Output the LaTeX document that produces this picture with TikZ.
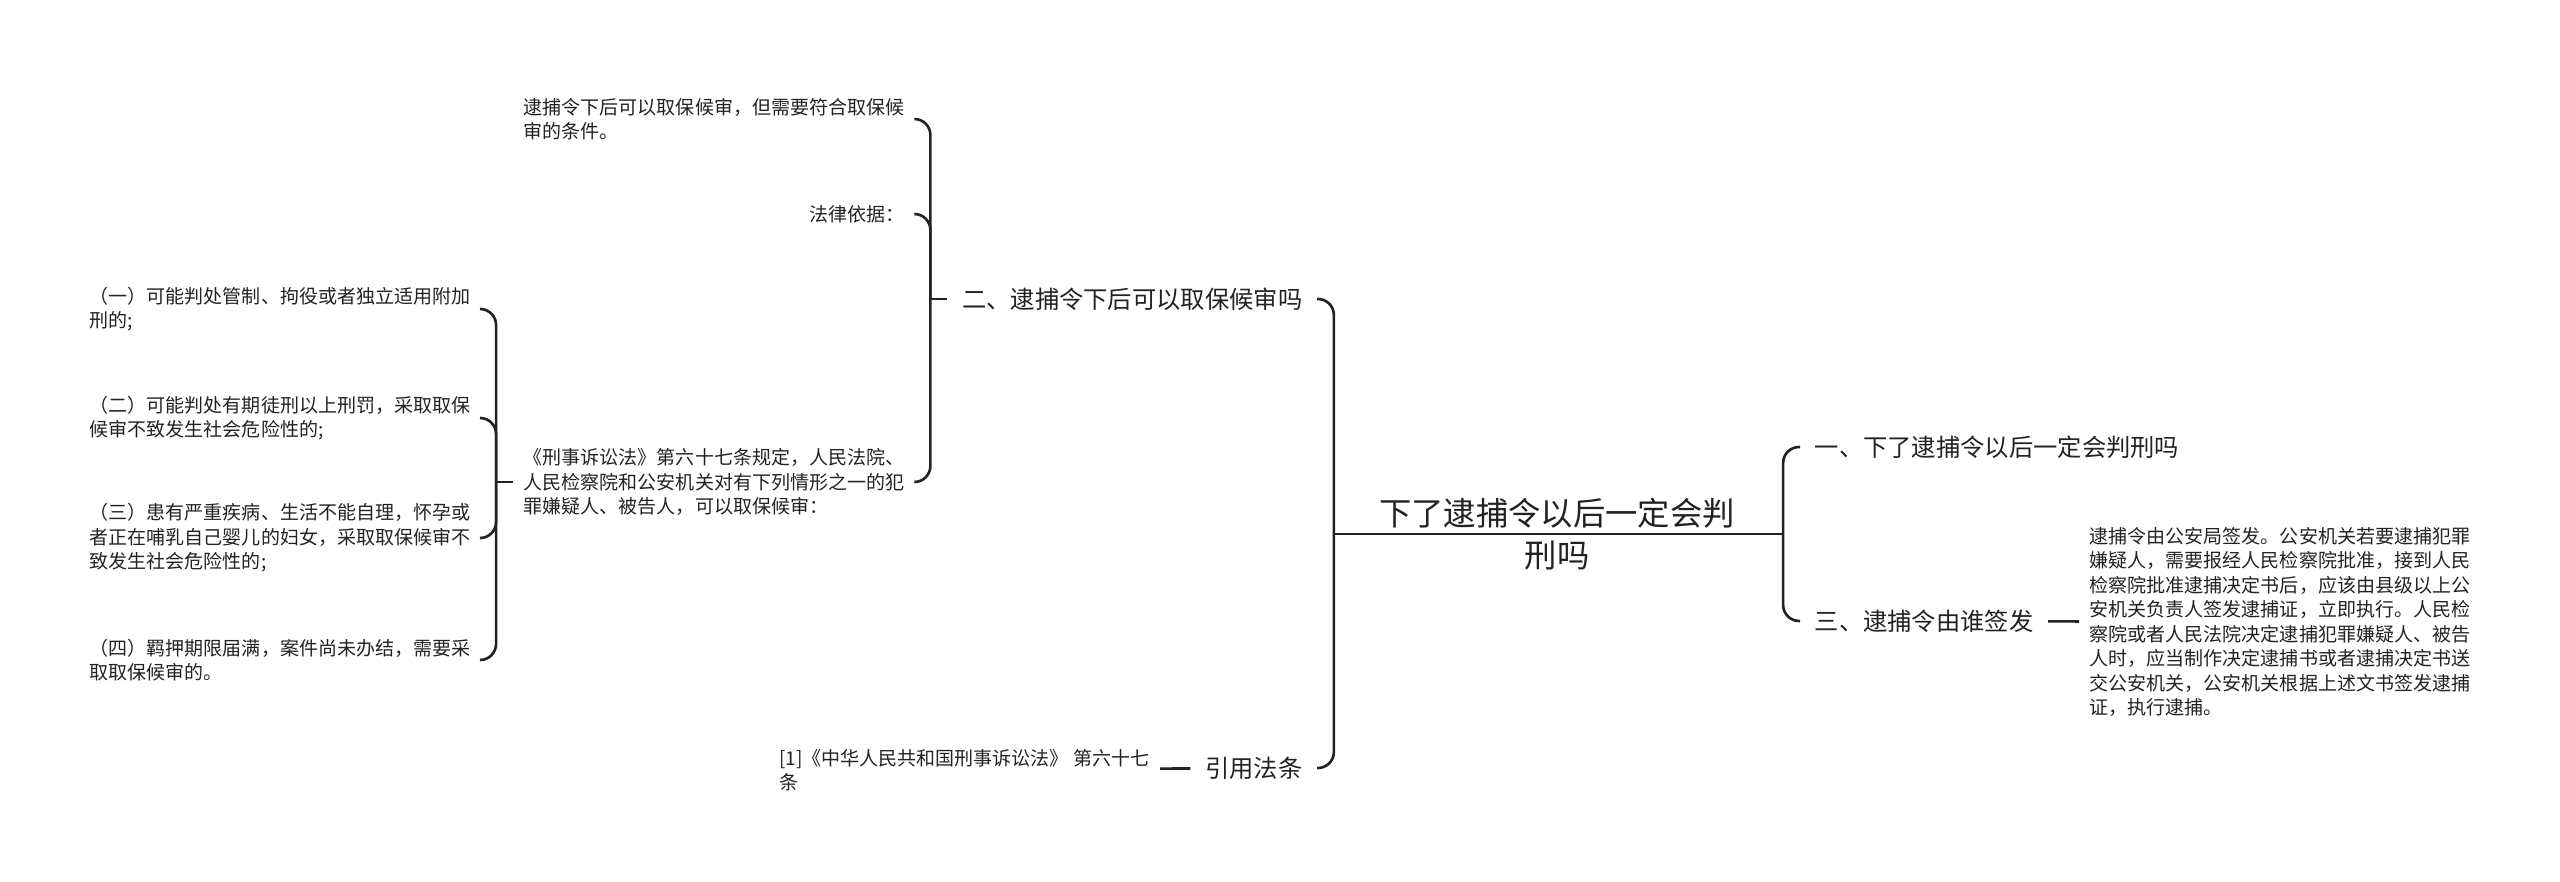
\documentclass[tikz,border=0pt]{standalone}
\usepackage{fontspec}
\setmainfont{Noto Sans CJK SC}
\usetikzlibrary{positioning}
\definecolor{inkc}{HTML}{222222}

\begin{document}
\begin{tikzpicture}[
    x=0.01cm, y=-0.01cm,
    rootbox/.style={font=\fontsize{9.19}{11.95}\selectfont, align=center, text=inkc, inner sep=0pt},
    topic/.style={font=\fontsize{6.91}{8.6}\selectfont, text=inkc, inner xsep=0.14cm, inner ysep=0.04cm},
    leaf/.style={font=\fontsize{5.41}{6.97}\selectfont, align=left, text=inkc, inner xsep=0.1cm, inner ysep=0.04cm},
    link/.style={draw=inkc, line width=0.75pt, rounded corners=0.16cm}
  ]
  \useasboundingbox (0,0) rectangle (2560,882);

  \node[rootbox] (root) at (1557,534) {下了逮捕令以后一定会判\\刑吗};
  \coordinate[left=2.23cm of root.center] (rootL);
  \coordinate[right=2.26cm of root.center] (rootR);

  \node[topic, anchor=east] (two) at (1317,299) {二、逮捕令下后可以取保候审吗};
  \node[topic, anchor=east] (cite) at (1317,768) {引用法条};
  \node[topic, anchor=west] (one) at (1800,447) {一、下了逮捕令以后一定会判刑吗};
  \node[topic, anchor=west] (three) at (1800,621) {三、逮捕令由谁签发};

  \node[leaf, anchor=west] (detail) at (2079,622) {逮捕令由公安局签发。公安机关若要逮捕犯罪\\嫌疑人，需要报经人民检察院批准，接到人民\\检察院批准逮捕决定书后，应该由县级以上公\\安机关负责人签发逮捕证，立即执行。人民检\\察院或者人民法院决定逮捕犯罪嫌疑人、被告\\人时，应当制作决定逮捕书或者逮捕决定书送\\交公安机关，公安机关根据上述文书签发逮捕\\证，执行逮捕。};
  \node[leaf, anchor=east] (ref) at (1160,770) {[1]《中华人民共和国刑事诉讼法》 第六十七\\条};

  \coordinate[left=0.17cm of two] (jtwo);
  \node[leaf, anchor=east] (basisA) at (915,119) {逮捕令下后可以取保候审，但需要符合取保候\\审的条件。};
  \node[leaf, anchor=east] (basisB) at (915,214) {法律依据：};
  \node[leaf, anchor=east] (article) at (915,482) {《刑事诉讼法》第六十七条规定，人民法院、\\人民检察院和公安机关对有下列情形之一的犯\\罪嫌疑人、被告人，可以取保候审：};

  \coordinate[left=0.17cm of article] (jart);
  \node[leaf, anchor=east] (caseA) at (481,309) {（一）可能判处管制、拘役或者独立适用附加\\刑的;};
  \node[leaf, anchor=east] (caseB) at (481,418) {（二）可能判处有期徒刑以上刑罚，采取取保\\候审不致发生社会危险性的;};
  \node[leaf, anchor=east] (caseC) at (481,538) {（三）患有严重疾病、生活不能自理，怀孕或\\者正在哺乳自己婴儿的妇女，采取取保候审不\\致发生社会危险性的;};
  \node[leaf, anchor=east] (caseD) at (481,660) {（四）羁押期限届满，案件尚未办结，需要采\\取取保候审的。};

  \draw[link] (rootL) -- (rootR);
  \draw[link] (rootL) |- (two.east);
  \draw[link] (rootL) |- (cite.east);
  \draw[link] (rootR) |- (one.west);
  \draw[link] (rootR) |- (three.west);
  \draw[link] (three) -- (detail);
  \draw[link] (cite) -- (ref);

  \draw[link] (jtwo) -- (two.west);
  \foreach \b in {basisA,basisB,article}
    \draw[link] (jtwo) |- (\b.east);

  \draw[link] (jart) -- (article.west);
  \foreach \c in {caseA,caseB,caseC,caseD}
    \draw[link] (jart) |- (\c.east);
\end{tikzpicture}
\end{document}
